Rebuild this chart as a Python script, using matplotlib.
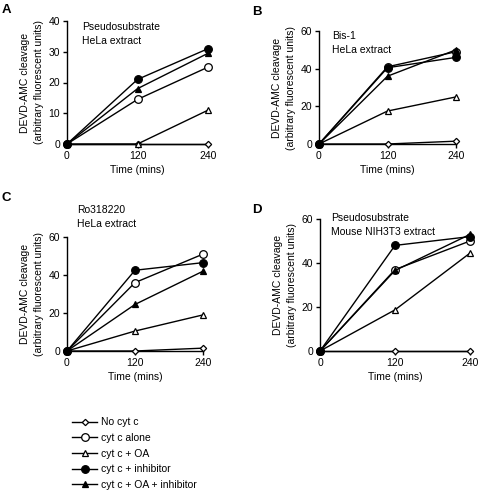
import numpy as np
import matplotlib.pyplot as plt

plt.rcParams['font.family'] = ['Liberation Sans', 'DejaVu Sans']
plt.rcParams['font.size'] = 7.5

times = [0, 120, 240]
series_names = ['No cyt c', 'cyt c alone', 'cyt c + OA', 'cyt c + inhibitor', 'cyt c + OA + inhibitor']

# values, order follows series_names
panel_A = [[0, 0, 0], [0, 14.5, 25], [0, 0, 11], [0, 21, 31], [0, 18, 29.5]]
panel_B = [[0, 0, 1.5], [0, 41, 49], [0, 17.5, 25], [0, 40.5, 46], [0, 36, 50]]
panel_C = [[0, 0, 1.5], [0, 36, 51], [0, 10.5, 19], [0, 42.5, 46.5], [0, 24.5, 42]]
panel_D = [[0, 0, 0], [0, 37, 50], [0, 18.7, 44.5], [0, 48, 52], [0, 36.6, 53]]

ymax = [40, 60, 60, 60]
yticks = [[0, 10, 20, 30, 40], [0, 20, 40, 60], [0, 20, 40, 60], [0, 20, 40, 60]]
notes = ['Pseudosubstrate\nHeLa extract', 'Bis-1\nHeLa extract',
         'Ro318220\nHeLa extract', 'Pseudosubstrate\nMouse NIH3T3 extract']
letters = ['A', 'B', 'C', 'D']

styles = [dict(marker='D', ms=3.2, mfc='white'),
          dict(marker='o', ms=5.5, mfc='white'),
          dict(marker='^', ms=5, mfc='white'),
          dict(marker='o', ms=5.5, mfc='black'),
          dict(marker='^', ms=5, mfc='black')]

W, H = 480, 493
fig = plt.figure(figsize=(W/100, H/100), dpi=100)

# axes boxes in pixels: left, right, top, bottom
boxes = [(67, 208, 21, 144), (319, 456, 31, 144), (67, 203, 237, 351), (320, 470, 219, 351)]
axes = []
for b in boxes:
    l, r, t, bt = b
    axes.append(fig.add_axes([l/W, 1-bt/H, (r-l)/W, (bt-t)/H]))

data = [panel_A, panel_B, panel_C, panel_D]
for i, ax in enumerate(axes):
    lines = []
    for j, vals in enumerate(data[i]):
        ln, = ax.plot(times, vals, color='black', lw=1.0, mec='black', mew=0.9,
                      clip_on=False, zorder=3, **styles[j])
        lines.append(ln)
    ax.set_xlim(0, 240)
    ax.set_ylim(0, ymax[i])
    ax.set_xticks(times)
    ax.set_yticks(yticks[i])
    ax.spines['top'].set_visible(False)
    ax.spines['right'].set_visible(False)
    ax.spines['left'].set_linewidth(1.0)
    ax.spines['bottom'].set_linewidth(1.0)
    ax.tick_params(direction='out', length=3, width=1.0, pad=2)
    ax.set_xlabel('Time (mins)', labelpad=3)
    ax.set_ylabel('DEVD-AMC cleavage\n(arbitrary fluorescent units)', labelpad=3, linespacing=1.55)
    if i == 0:
        handles = lines

fig.text(82/W, 1-22/H, notes[0], va='top', ha='left', linespacing=1.55)
fig.text(332/W, 1-31/H, notes[1], va='top', ha='left', linespacing=1.55)
fig.text(77/W, 1-205/H, notes[2], va='top', ha='left', linespacing=1.55)
fig.text(331/W, 1-213/H, notes[3], va='top', ha='left', linespacing=1.55)

letter_pos = [(2, 4), (252, 6), (2, 192), (252, 204)]
for k, (x, y) in enumerate(letter_pos):
    fig.text(x/W, 1-y/H, letters[k], va='top', ha='left', fontsize=9.5, fontweight='bold')

fig.legend(handles, series_names, loc='upper left', bbox_to_anchor=(68/W, 1-413/H),
           frameon=False, handlelength=2.4, handletextpad=0.4, labelspacing=0.55,
           borderaxespad=0, fontsize=7.5)

fig.savefig('out.png', dpi=100)
